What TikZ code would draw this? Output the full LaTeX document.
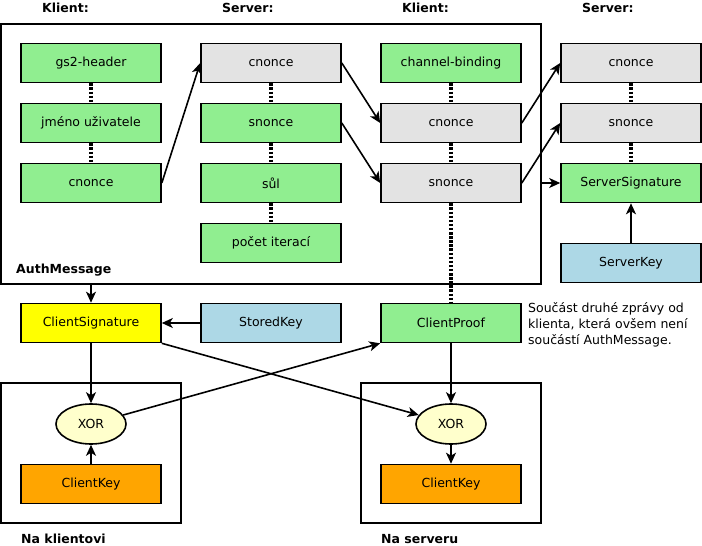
\documentclass[tikz,border=0pt]{standalone}
\usepackage{fontspec}
\setmainfont{DejaVu Sans}
\usetikzlibrary{arrows.meta,shapes.geometric}
\definecolor{okGreen}{HTML}{90EE90}
\definecolor{msgGray}{HTML}{E3E3E3}
\definecolor{sigYellow}{HTML}{FFFF00}
\definecolor{keyBlue}{HTML}{ADD8E6}
\definecolor{keyOrange}{HTML}{FFA500}
\definecolor{xorFill}{HTML}{FFFFCC}

\begin{document}
\begin{tikzpicture}[x=1pt,y=-1pt,
  font=\fontsize{12.5}{16}\selectfont,
  box/.style={draw,line width=1.6pt,minimum width=140pt,minimum height=39pt,inner sep=0pt},
  okbox/.style={box,fill=okGreen},
  msgbox/.style={box,fill=msgGray},
  frame/.style={draw,line width=1.6pt,inner sep=0pt},
  xorop/.style={ellipse,draw,line width=1.6pt,fill=xorFill,minimum width=70pt,minimum height=40pt,inner sep=0pt},
  part/.style={line width=3.2pt,dash pattern=on 2.5pt off 1.6pt},
  flow/.style={line width=1.6pt,-{Stealth[length=11pt,width=10pt,inset=3pt]}},
  title/.style={anchor=west,inner sep=0pt,font=\fontsize{12.5}{16}\selectfont\bfseries}]
  \useasboundingbox (0,0) rectangle (702,546);

  % AuthMessage
  \node[frame,minimum width=540pt,minimum height=260pt] (authMsg) at (271,154) {};
  \node[title] at (16,270) {AuthMessage};

  \node[title] at (42,8) {Klient:};
  \node[title] at (222,8) {Server:};
  \node[title] at (402,8) {Klient:};
  \node[title] at (582,8) {Server:};

  \node[okbox] (gsHeader) at (91,63) {gs2-header};
  \node[okbox] (userName) at (91,123) {jméno uživatele};
  \node[okbox] (cliNonceA) at (91,183) {cnonce};

  \node[msgbox] (cliNonceB) at (271,63) {cnonce};
  \node[okbox] (srvNonceB) at (271,123) {snonce};
  \node[okbox] (salt) at (271,183) {sůl};
  \node[okbox] (iterCount) at (271,243) {počet iterací};

  \node[okbox] (chanBind) at (451,63) {channel-binding};
  \node[msgbox] (cliNonceC) at (451,123) {cnonce};
  \node[msgbox] (srvNonceC) at (451,183) {snonce};

  \node[msgbox] (cliNonceD) at (631,63) {cnonce};
  \node[msgbox] (srvNonceD) at (631,123) {snonce};
  \node[okbox] (srvSig) at (631,183) {ServerSignature};
  \node[box,fill=keyBlue] (srvKey) at (631,263) {ServerKey};

  \node[box,fill=sigYellow] (cliSig) at (91,323) {ClientSignature};
  \node[box,fill=keyBlue] (storedKey) at (271,323) {StoredKey};
  \node[okbox] (cliProof) at (451,323) {ClientProof};
  \node[anchor=north west,align=left,inner sep=0pt] (proofNote) at (528,302)
    {Součást druhé zprávy od\\klienta, která ovšem není\\součástí AuthMessage.};

  % Na klientovi / Na serveru
  \node[frame,minimum width=180pt,minimum height=140pt] (cliSide) at (91,453) {};
  \node[frame,minimum width=180pt,minimum height=140pt] (srvSide) at (451,453) {};
  \node[title] at (21,539) {Na klientovi};
  \node[title] at (381,539) {Na serveru};
  \node[xorop] (cliXor) at (91,424) {XOR};
  \node[xorop] (srvXor) at (451,424) {XOR};
  \node[box,fill=keyOrange] (cliKeyA) at (91,484) {ClientKey};
  \node[box,fill=keyOrange] (cliKeyB) at (451,484) {ClientKey};

  \draw[part] (gsHeader) -- (userName) -- (cliNonceA);
  \draw[part] (cliNonceB) -- (srvNonceB) -- (salt) -- (iterCount);
  \draw[part] (chanBind) -- (cliNonceC) -- (srvNonceC) -- (cliProof);
  \draw[part] (cliNonceD) -- (srvNonceD) -- (srvSig);

  \draw[flow] (cliNonceA.east) -- (cliNonceB.west);
  \draw[flow] (cliNonceB.east) -- (cliNonceC.west);
  \draw[flow] (srvNonceB.east) -- (srvNonceC.west);
  \draw[flow] (cliNonceC.east) -- (cliNonceD.west);
  \draw[flow] (srvNonceC.east) -- (srvNonceD.west);
  \draw[flow] (authMsg.east |- srvSig) -- (srvSig.west);
  \draw[flow] (srvKey) -- (srvSig);

  \draw[flow] (cliSig |- authMsg.south) -- (cliSig);
  \draw[flow] (storedKey) -- (cliSig);
  \draw[flow] (cliSig) -- (cliXor);
  \draw[flow] (cliKeyA) -- (cliXor);
  \draw[flow] (cliXor) -- (cliProof.south west);
  \draw[flow] (cliSig.south east) -- (srvXor);
  \draw[flow] (cliProof) -- (srvXor);
  \draw[flow] (srvXor) -- (cliKeyB);
\end{tikzpicture}
\end{document}
